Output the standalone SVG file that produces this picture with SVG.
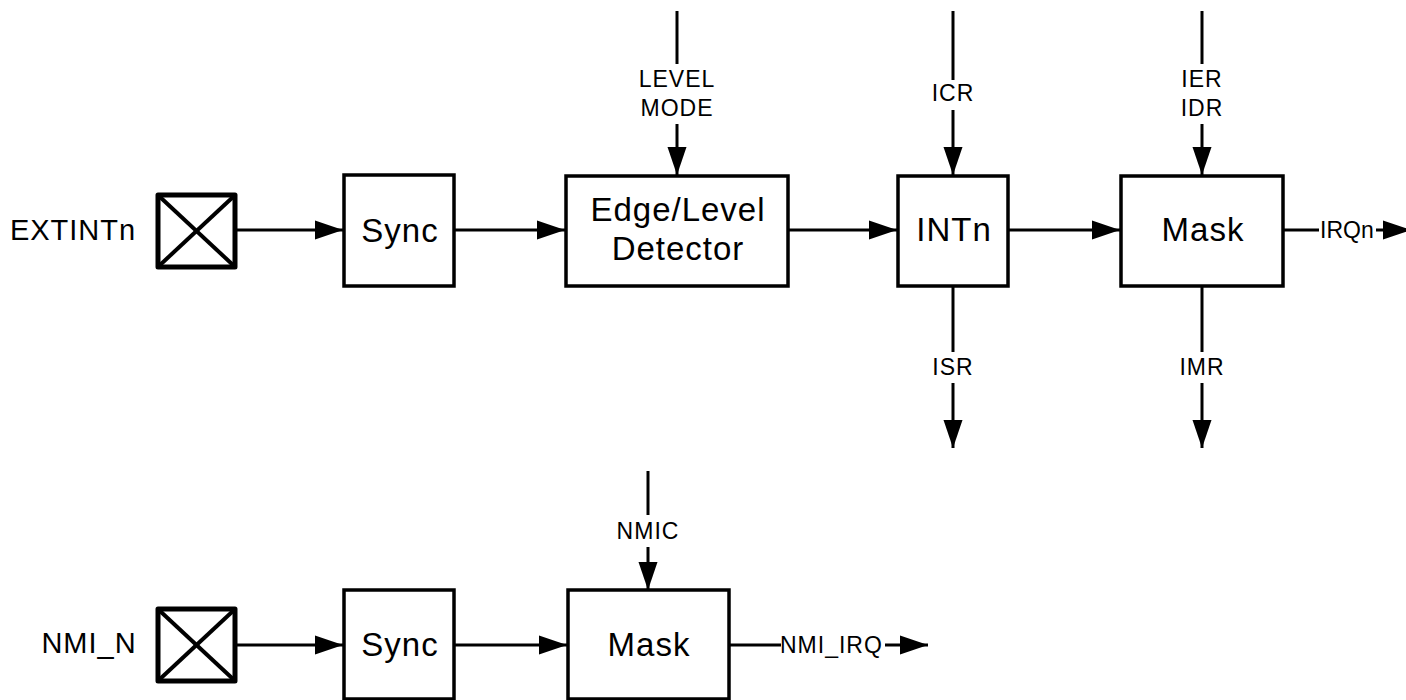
<svg xmlns="http://www.w3.org/2000/svg" width="1406" height="700" viewBox="0 0 1406 700">
<style>
.box{fill:#fff;stroke:#000;stroke-width:3.5}
.pad{fill:#fff;stroke:#000;stroke-width:5;stroke-linejoin:round}
.padx{stroke:#000;stroke-width:4}
.ln{stroke:#000;stroke-width:3;fill:none}
.big{font-family:"Liberation Sans",Arial,sans-serif;font-size:33px;letter-spacing:1px;text-anchor:middle;fill:#000}
.mid{font-family:"Liberation Sans",Arial,sans-serif;font-size:29px;letter-spacing:1px;text-anchor:middle;fill:#000}
.sm{font-family:"Liberation Sans",Arial,sans-serif;font-size:23px;letter-spacing:1px;text-anchor:middle;fill:#000}
.lbl{font-family:"Liberation Sans",Arial,sans-serif;font-size:23px;text-anchor:start;fill:#000}
</style>
<defs>
<marker id="arr" markerUnits="userSpaceOnUse" markerWidth="30" markerHeight="20" refX="28" refY="10" orient="auto" overflow="visible">
<path d="M0,0.5 L28,10 L0,19.5 z" fill="#000"/>
</marker>
</defs>
<g id="connectors">
<line class="ln" x1="235" y1="230" x2="343" y2="230" marker-end="url(#arr)"/>
<line class="ln" x1="454" y1="230" x2="565" y2="230" marker-end="url(#arr)"/>
<line class="ln" x1="788" y1="230" x2="897" y2="230" marker-end="url(#arr)"/>
<line class="ln" x1="1008" y1="230" x2="1120" y2="230" marker-end="url(#arr)"/>
<line class="ln" x1="1283" y1="230" x2="1319" y2="230"/>
<line class="ln" x1="1376" y1="230" x2="1411" y2="230" marker-end="url(#arr)"/>
<line class="ln" x1="677" y1="11" x2="677" y2="64"/>
<line class="ln" x1="677" y1="124" x2="677" y2="175" marker-end="url(#arr)"/>
<line class="ln" x1="953" y1="11" x2="953" y2="80"/>
<line class="ln" x1="953" y1="110" x2="953" y2="175" marker-end="url(#arr)"/>
<line class="ln" x1="1202" y1="11" x2="1202" y2="64"/>
<line class="ln" x1="1202" y1="124" x2="1202" y2="175" marker-end="url(#arr)"/>
<line class="ln" x1="953" y1="286" x2="953" y2="352"/>
<line class="ln" x1="953" y1="383" x2="953" y2="448" marker-end="url(#arr)"/>
<line class="ln" x1="1202" y1="286" x2="1202" y2="352"/>
<line class="ln" x1="1202" y1="383" x2="1202" y2="448" marker-end="url(#arr)"/>
<line class="ln" x1="235" y1="645" x2="343" y2="645" marker-end="url(#arr)"/>
<line class="ln" x1="454" y1="645" x2="567" y2="645" marker-end="url(#arr)"/>
<line class="ln" x1="729" y1="645" x2="781" y2="645"/>
<line class="ln" x1="885" y1="645" x2="928" y2="645" marker-end="url(#arr)"/>
<line class="ln" x1="648" y1="471" x2="648" y2="515"/>
<line class="ln" x1="648" y1="547" x2="648" y2="590" marker-end="url(#arr)"/>
<text class="sm" x="677" y="87">LEVEL</text>
<text class="sm" x="677" y="116">MODE</text>
<text class="sm" x="953" y="101">ICR</text>
<text class="sm" x="1202" y="87">IER</text>
<text class="sm" x="1202" y="116">IDR</text>
<text class="sm" x="953" y="375">ISR</text>
<text class="sm" x="1202" y="375">IMR</text>
<text class="lbl" x="1320" y="238">IRQn</text>
<text class="sm" x="648" y="539">NMIC</text>
<text class="sm" style="text-anchor:start" x="780" y="653">NMI_IRQ</text>
</g>
<g id="extintn">
<text class="mid" x="73" y="240">EXTINTn</text>
<rect class="pad" x="158" y="195" width="77" height="72"/>
<line class="padx" x1="160" y1="197" x2="233" y2="265"/>
<line class="padx" x1="233" y1="197" x2="160" y2="265"/>
</g>
<g id="sync1">
<rect class="box" x="344" y="175" width="110" height="111"/>
<text class="big" x="400" y="242">Sync</text>
</g>
<g id="edgelevel">
<rect class="box" x="566" y="176" width="222" height="110"/>
<text class="big" x="678" y="221">Edge/Level</text>
<text class="big" x="678" y="260">Detector</text>
</g>
<g id="intn">
<rect class="box" x="898" y="176" width="110" height="110"/>
<text class="big" x="954" y="241">INTn</text>
</g>
<g id="mask1">
<rect class="box" x="1121" y="176" width="162" height="110"/>
<text class="big" x="1203" y="241">Mask</text>
</g>
<g id="nmi_n">
<text class="mid" x="89" y="653">NMI_N</text>
<rect class="pad" x="158" y="609" width="77" height="72"/>
<line class="padx" x1="160" y1="611" x2="233" y2="679"/>
<line class="padx" x1="233" y1="611" x2="160" y2="679"/>
</g>
<g id="sync2">
<rect class="box" x="344" y="590" width="110" height="109"/>
<text class="big" x="400" y="656">Sync</text>
</g>
<g id="mask2">
<rect class="box" x="568" y="590" width="161" height="109"/>
<text class="big" x="649" y="656">Mask</text>
</g>
</svg>
